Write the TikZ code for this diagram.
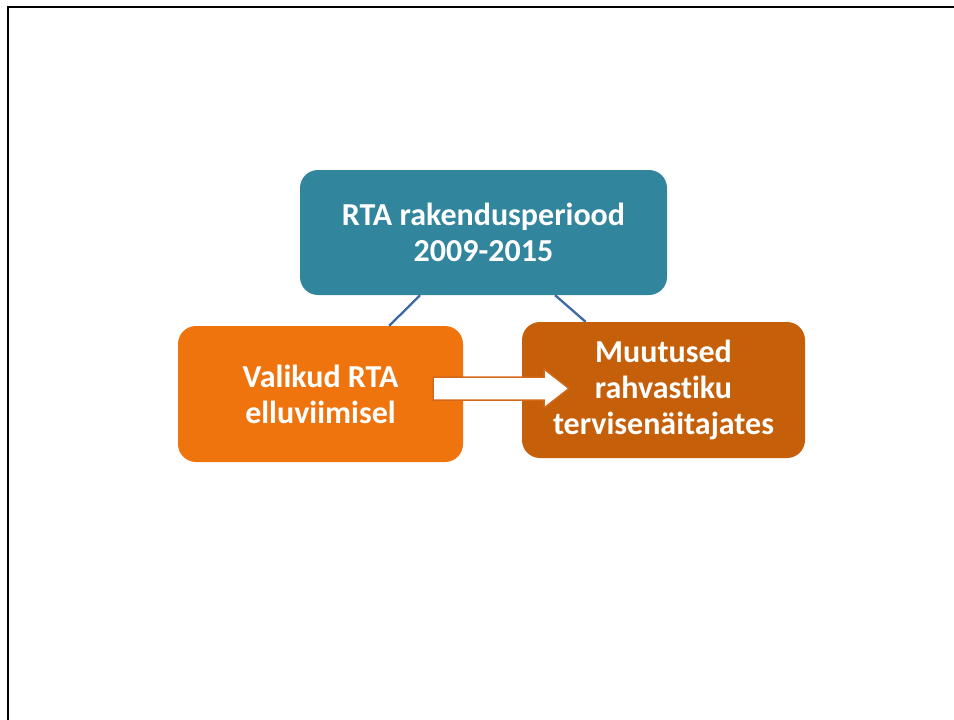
\documentclass[tikz,border=0pt]{standalone}
\usepackage{fontspec}
\setmainfont[Ligatures=NoCommon]{Carlito}
\definecolor{tealbox}{HTML}{31859C}
\definecolor{orangebox}{HTML}{F0740E}
\definecolor{darkorange}{HTML}{C55F0A}
\definecolor{linkblue}{HTML}{3C6AA5}
\definecolor{arrowedge}{HTML}{D2681A}
\begin{document}
\begin{tikzpicture}[x=1pt,y=-1pt,
  box/.style={rounded corners=18pt, inner sep=0pt, text=white, align=center,
    font=\bfseries\fontsize{32}{36}\selectfont},
  link/.style={draw=linkblue, line width=2.3pt},
  frame/.style={draw=black, line width=2.5pt}]
\useasboundingbox (0,0) rectangle (954,720);
% frame (left and top edges)
\coordinate (fbl) at (8,722);
\coordinate (ftl) at (8,7);
\coordinate (ftr) at (956,7);
\draw[frame] (fbl) -- (ftl) -- (ftr);
% boxes
\node[box, fill=tealbox, minimum width=367pt, minimum height=125pt] (top) at (483.5,232.5) {RTA rakendusperiood\\2009-2015};
\node[box, fill=orangebox, minimum width=285pt, minimum height=136pt] (left) at (320.5,394) {Valikud RTA\\elluviimisel};
\node[box, fill=darkorange, minimum width=283pt, minimum height=136pt] (right) at (663.5,390) {Muutused\\rahvastiku\\tervisenäitajates};
% connectors
\draw[link] (top) -- (left);
\draw[link] (top) -- (right);
% block arrow
\draw[draw=arrowedge, line width=1.5pt, fill=white, line join=miter]
  (433,377) -- (544,377) -- (544,369) -- (569,388.5) -- (544,408) -- (544,400) -- (433,400) -- cycle;
\end{tikzpicture}
\end{document}
